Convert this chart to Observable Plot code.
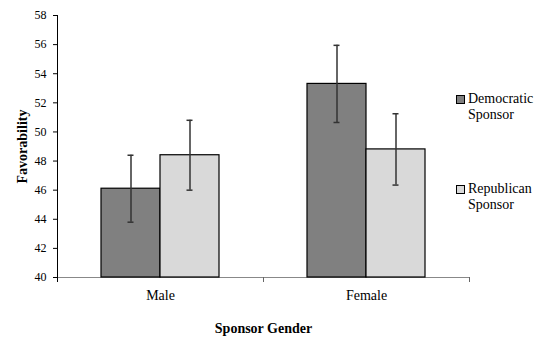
<!DOCTYPE html>
<html>
<head>
<meta charset="utf-8">
<script src="https://cdn.jsdelivr.net/npm/d3@7"></script>
<script src="https://cdn.jsdelivr.net/npm/@observablehq/plot@0.6"></script>
<style>
  html, body { margin: 0; padding: 0; background: #fff; }
  #wrap { position: relative; width: 537px; height: 339px; font-family: "Liberation Serif", "Times New Roman", serif; }
  #wrap svg g[aria-label="y-axis label"] text,
  #wrap svg g[aria-label="fx-axis label"] text { font-weight: bold; font-size: 14px; }
  .leg { position: absolute; left: 456px; font-size: 14px; line-height: 16px; color: #000; }
  .leg .sw { position: absolute; left: 0; top: 4px; width: 7px; height: 7px; border: 1px solid #000; }
  .leg .tx { margin-left: 12px; }
</style>
</head>
<body>
<div id="wrap"></div>
<script>
const genders = ["Male", "Female"];
const parties = ["Democratic Sponsor", "Republican Sponsor"];
const demMeans = [46.1, 53.3];
const repMeans = [48.4, 48.8];
const demErr = [2.3, 2.65];
const repErr = [2.4, 2.45];
const yTicks = [40, 42, 44, 46, 48, 50, 52, 54, 56, 58];
const yBase = 40;
const colors = ["#808080", "#d9d9d9"];

const rows = [];
genders.forEach((g, i) => {
  rows.push({gender: g, party: parties[0], mean: demMeans[i], lo: demMeans[i] - demErr[i], hi: demMeans[i] + demErr[i]});
  rows.push({gender: g, party: parties[1], mean: repMeans[i], lo: repMeans[i] - repErr[i], hi: repMeans[i] + repErr[i]});
});

const chart = Plot.plot({
  width: 537,
  height: 339,
  marginLeft: 57,
  marginRight: 68,
  marginTop: 15,
  marginBottom: 62,
  style: {fontFamily: "Liberation Serif, Times New Roman, serif", fontSize: "12px", color: "#000", background: "#fff"},
  fx: {domain: genders, padding: 0},
  x: {domain: parties, paddingInner: 0, paddingOuter: 0.745, axis: null},
  y: {domain: [40, 58]},
  color: {domain: parties, range: colors},
  marks: [
    Plot.ruleY([yBase], {stroke: "#888", strokeWidth: 1.2}),
    Plot.frame({anchor: "left", insetTop: 262, insetBottom: -4, stroke: "#666"}),
    Plot.frame({anchor: "right", insetTop: 262, insetBottom: -4, stroke: "#666"}),
    Plot.frame({anchor: "left", facetAnchor: "left", insetBottom: -4, stroke: "#000"}),
    Plot.barY(rows, {fx: "gender", x: "party", y1: yBase, y2: "mean", fill: "party", stroke: "#000", strokeWidth: 1.2}),
    Plot.ruleX(rows, {fx: "gender", x: "party", y1: "lo", y2: "hi", stroke: "#333", strokeWidth: 1.5}),
    Plot.tickY(rows, {fx: "gender", x: "party", y: "hi", insetLeft: 26.5, insetRight: 26.5, stroke: "#333", strokeWidth: 1.5}),
    Plot.tickY(rows, {fx: "gender", x: "party", y: "lo", insetLeft: 26.5, insetRight: 26.5, stroke: "#333", strokeWidth: 1.5}),
    Plot.axisY({ticks: yTicks, tickSize: 4, tickPadding: 7, fontSize: 12, tickFormat: d => String(d),
                label: "Favorability", labelAnchor: "center", labelOffset: 40, labelArrow: "none"}),
    Plot.axisFx({anchor: "bottom", tickSize: 0, tickPadding: 13, fontSize: 14, label: "Sponsor Gender", labelAnchor: "center", labelOffset: 55, labelArrow: "none"})
  ]
});

const wrap = document.getElementById("wrap");
wrap.appendChild(chart);

// Legend (HTML, to the right of the plot)
const legendTops = [91, 181];
parties.forEach((p, i) => {
  const d = document.createElement("div");
  d.className = "leg";
  d.style.top = legendTops[i] + "px";
  const sw = document.createElement("span");
  sw.className = "sw";
  sw.style.background = colors[i];
  const words = p.split(" ");
  const tx = document.createElement("div");
  tx.className = "tx";
  tx.innerHTML = words[0] + "<br>" + words[1];
  d.appendChild(sw);
  d.appendChild(tx);
  wrap.appendChild(d);
});
</script>
</body>
</html>
